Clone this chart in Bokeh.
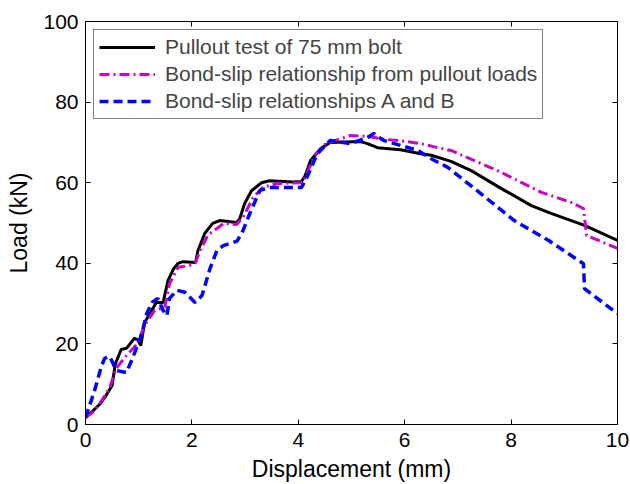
from bokeh.plotting import figure
from bokeh.models import LinearAxis, Range1d, Legend, LegendItem, FixedTicker
from bokeh.embed import file_html
from bokeh.resources import INLINE

# Pullout test of 75 mm bolt
test_x = [0, 0.15, 0.28, 0.4, 0.5, 0.56, 0.67, 0.77, 0.92, 0.98, 1.04, 1.11, 1.21, 1.33, 1.46,
          1.55, 1.65, 1.74, 1.83, 2.07, 2.11, 2.24, 2.39, 2.52, 2.84, 2.9, 2.99, 3.12, 3.31,
          3.46, 3.9, 4.06, 4.13, 4.23, 4.42, 4.6, 5.17, 5.3, 5.49, 5.92, 6.3, 6.5, 6.87, 7.25,
          7.81, 8.38, 8.75, 9.38, 10]
test_y = [1.7, 3.5, 5.2, 7.5, 9.7, 15, 18.6, 18.9, 21.4, 21, 19.6, 25.3, 27.5, 30.3, 30.3,
          35.7, 38.5, 40, 40.4, 40.2, 43, 47.4, 49.9, 50.6, 50.1, 51.1, 54.8, 58, 60,
          60.5, 60.2, 60.3, 61.8, 65.5, 68.5, 70, 70.2, 69.7, 68.7, 68.2, 67.2, 66.8, 65.3, 63,
          58.6, 54.3, 52.4, 49.4, 45.7]

# Bond-slip relationship from pullout loads
bs_x = [0, 0.15, 0.3, 0.45, 0.58, 0.77, 0.98, 1.11, 1.3, 1.49, 1.58, 1.74, 1.97, 2.06, 2.15,
        2.3, 2.6, 2.84, 2.96, 3.15, 3.33, 3.6, 4.08, 4.15, 4.3, 4.5, 4.7, 4.98, 5.3, 5.6, 6.0,
        6.3, 6.62, 6.87, 7.43, 7.81, 8.2, 8.57, 9.13, 9.36, 9.42, 10]
bs_y = [1.7, 3.2, 5.8, 9, 14, 17.1, 20.1, 24.6, 28.3, 29.1, 35, 39, 39.5, 40, 43,
        47, 49.9, 49.6, 51.4, 56.3, 58.8, 59.8, 60, 62, 66.5, 69.5, 70.5, 71.7, 71.5, 70.8, 70.3,
        69.7, 68.7, 68, 64.8, 62.6, 60, 57.6, 55.1, 53.6, 46.9, 43.7]

# Bond-slip relationships A and B
ab_x = [0, 0.17, 0.3, 0.36, 0.45, 0.51, 0.58, 0.77, 0.89, 1.06, 1.15, 1.25, 1.36, 1.46, 1.53,
        1.58, 1.72, 1.87, 2.06, 2.19, 2.34, 2.47, 2.59, 2.85, 2.96, 3.09, 3.28, 3.46, 3.7, 4.06,
        4.16, 4.36, 4.6, 4.98, 5.3, 5.42, 5.6, 6.25, 6.49, 6.81, 7.43, 8.06, 8.7, 9.36, 9.38, 10]
ab_y = [1.7, 8.4, 14.5, 16.4, 16.9, 15.4, 13.4, 12.9, 16.6, 22.6, 27.5, 30.3, 31.3, 28.3, 27,
        31.3, 33.3, 32.8, 30.3, 32, 38.7, 43.2, 44.4, 45.5, 48.1, 52.4, 58.1, 58.8, 58.8, 58.8,
        61.3, 67.2, 70.5, 69.7, 71.2, 72.2, 70.5, 68, 66, 63.8, 57.3, 50.6, 45.7, 39.9, 33.7, 27.5]

labels = ["Pullout test of 75 mm bolt",
          "Bond-slip relationship from pullout loads",
          "Bond-slip relationships A and B"]

x_ticks = [0, 2, 4, 6, 8, 10]
y_ticks = [0, 20, 40, 60, 80, 100]

FONT = "Liberation Sans"

p = figure(width=630, height=484, output_backend="svg", toolbar_location=None,
           x_range=Range1d(0, 10), y_range=Range1d(0, 100),
           min_border_left=85, min_border_right=13, min_border_top=21, min_border_bottom=60)
p.grid.visible = False
p.outline_line_color = "black"
p.outline_line_width = 1
p.background_fill_color = "white"
p.border_fill_color = "white"

r1 = p.line(test_x, test_y, line_color="black", line_width=3)
r2 = p.line(bs_x, bs_y, line_color="#CC00CC", line_width=3, line_dash="10 4 2 4")
r3 = p.line(ab_x, ab_y, line_color="#0000FF", line_width=3.5, line_dash="9 5")

def style_axis(ax, show_labels=True):
    ax.major_tick_in = 5
    ax.major_tick_out = 0
    ax.minor_tick_line_color = None
    ax.axis_line_color = "black"
    ax.major_tick_line_color = "black"
    ax.major_label_text_font = FONT
    ax.major_label_text_font_size = "21px"
    ax.major_label_text_color = "black" if show_labels else None
    ax.axis_label_text_font = FONT
    ax.axis_label_text_font_style = "normal"
    ax.axis_label_text_font_size = "23px"
    ax.axis_label_text_color = "black"

p.xaxis.ticker = FixedTicker(ticks=x_ticks)
p.yaxis.ticker = FixedTicker(ticks=y_ticks)
style_axis(p.xaxis[0])
style_axis(p.yaxis[0])
p.xaxis.axis_label = "Displacement (mm)"
p.yaxis.axis_label = "Load (kN)"
p.xaxis.major_label_standoff = 8
p.yaxis.major_label_standoff = 7
p.xaxis.axis_label_standoff = 6
p.yaxis.axis_label_standoff = 8

top_ax = LinearAxis(ticker=FixedTicker(ticks=x_ticks), major_label_standoff=0)
style_axis(top_ax, False)
right_ax = LinearAxis(ticker=FixedTicker(ticks=y_ticks), major_label_standoff=0)
style_axis(right_ax, False)
p.add_layout(top_ax, "above")
p.add_layout(right_ax, "right")

legend = Legend(items=[LegendItem(label=labels[0], renderers=[r1]),
                       LegendItem(label=labels[1], renderers=[r2]),
                       LegendItem(label=labels[2], renderers=[r3])],
                location="top_left", margin=8, padding=5,
                glyph_width=56, glyph_height=20, label_standoff=10, spacing=3,
                label_text_font=FONT, label_text_font_size="21px",
                border_line_color="black", border_line_width=1,
                background_fill_alpha=1.0)
p.add_layout(legend)

open("out.html", "w").write(file_html(p, INLINE))
